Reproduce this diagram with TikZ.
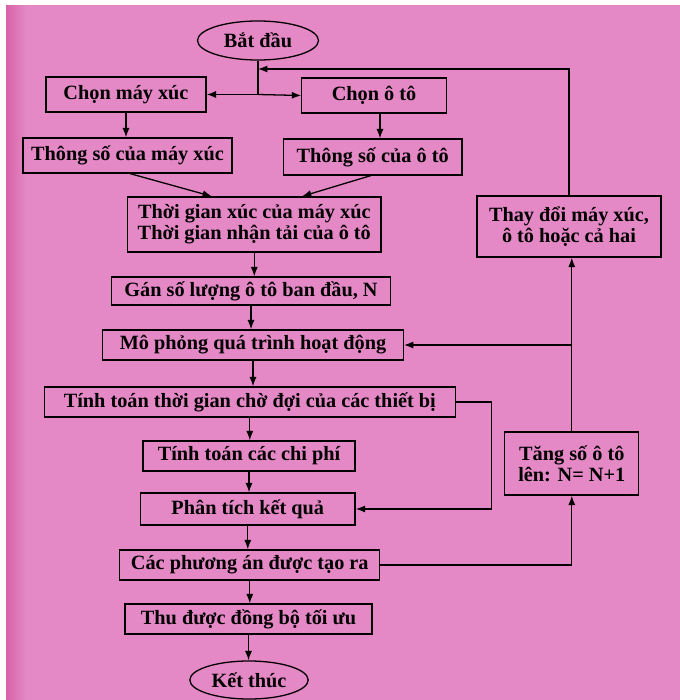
\documentclass[tikz,border=0pt]{standalone}
\usepackage{fontspec}
\setmainfont{Liberation Serif}
\usetikzlibrary{arrows.meta,shapes.geometric}
\definecolor{pagepink}{HTML}{E488C6}
\definecolor{edgepink}{HTML}{D862A8}
\begin{document}
\begin{tikzpicture}[x=0.03cm,y=-0.03cm,
    font=\fontsize{17.3}{18}\selectfont\bfseries,
    >={Latex[length=8pt,width=6pt]},
    every path/.style={line width=1.1pt},
    box/.style={draw, line width=1.1pt, inner sep=1pt, align=center},
    term/.style={draw, ellipse, line width=1.1pt, inner sep=0pt}]
    \useasboundingbox (0,0) rectangle (680,700);
    \fill [white] (0,0) rectangle (680,700);
    \fill [pagepink] (6,5) rectangle (680,700);
    \shade [left color=edgepink, right color=pagepink] (6,5) rectangle (26,700);
    \node [term, minimum width=3.63cm, minimum height=1.17cm] (start) at (258,40.5) {Bắt đầu};
    \node [box, minimum width=4.8cm, minimum height=1.05cm] (chonmx) at (126,94.5) {Chọn máy xúc};
    \node [box, minimum width=4.33cm, minimum height=1.05cm] (chonot) at (374,95.5) {Chọn ô tô};
    \node [box, minimum width=6.27cm, minimum height=1.05cm] (tsmx) at (127.5,155.5) {Thông số của máy xúc};
    \node [box, minimum width=5.35cm, minimum height=1.08cm] (tsot) at (372.7,157) {Thông số của ô tô};
    \node [box, minimum width=7.61cm, minimum height=1.65cm] (tg) at (254.3,224.5) {Thời gian xúc của máy xúc\\Thời gian nhận tải của ô tô};
    \node [box, minimum width=5.52cm, minimum height=1.83cm] (thaydoi) at (569,226.5) {Thay đổi máy xúc,\\ô tô hoặc cả hai};
    \node [box, minimum width=8.35cm, minimum height=0.84cm] (gan) at (251,291) {Gán số lượng ô tô ban đầu, N};
    \node [box, minimum width=9.02cm, minimum height=0.9cm] (mophong) at (253,345) {Mô phỏng quá trình hoạt động};
    \node [box, minimum width=12.33cm, minimum height=0.9cm] (tinhtg) at (249.8,402) {Tính toán thời gian chờ đợi của các thiết bị};
    \node [box, minimum width=6.36cm, minimum height=0.9cm] (chiphi) at (249,456) {Tính toán các chi phí};
    \node [box, minimum width=4.02cm, minimum height=1.89cm] (tang) at (571.8,463.5) {Tăng số ô tô\\lên: N= N+1};
    \node [box, minimum width=6.44cm, minimum height=0.96cm] (phantich) at (247.8,509) {Phân tích kết quả};
    \node [box, minimum width=7.8cm, minimum height=0.9cm] (phuongan) at (249.8,565) {Các phương án được tạo ra};
    \node [box, minimum width=7.41cm, minimum height=0.9cm] (thuduoc) at (248.5,619) {Thu được đồng bộ tối ưu};
    \node [term, minimum width=3.55cm, minimum height=1.14cm] (ketthuc) at (249,680) {Kết thúc};
    \coordinate (split) at (start.south |- chonmx.east);
    \coordinate (ret) at (258,69);
    \coordinate (side) at (491.8,402);
    \draw (start.south) -- (split);
    \draw [->] (split) -- (chonmx.east);
    \draw [->] (split) -- (chonot.west);
    \draw [->] (thaydoi.north) |- (ret);
    \draw [->] (chonmx.south) -- (chonmx.south |- tsmx.north);
    \draw [->] ([xshift=0.18cm]chonot.south) -- ([xshift=0.18cm]chonot.south |- tsot.north);
    \draw [->] ([xshift=0.08cm]tsmx.south) -- ([xshift=-1.27cm]tg.north);
    \draw [->] ([xshift=-0.06cm]tsot.south) -- ([xshift=1.43cm]tg.north);
    \draw [->] (tg.south) -- (tg.south |- gan.north);
    \draw [->] (gan.south) -- (gan.south |- mophong.north);
    \draw [->] (mophong.south) -- (mophong.south |- tinhtg.north);
    \draw [->] (tinhtg.south) -- (tinhtg.south |- chiphi.north);
    \draw [->] (chiphi.south) -- (chiphi.south |- phantich.north);
    \draw [->] (phantich.south) -- (phantich.south |- phuongan.north);
    \draw [->] (phuongan.south) -- (phuongan.south |- thuduoc.north);
    \draw [->] (thuduoc.south) -- (thuduoc.south |- ketthuc.north);
    \draw [->] (tang.north) -- (tang.north |- thaydoi.south);
    \draw [->] (tang.north |- mophong.east) -- (mophong.east);
    \draw [->] (tinhtg.east) -- (side) |- (phantich.east);
    \draw [->] (phuongan.east) -| (tang.south);
\end{tikzpicture}
\end{document}
